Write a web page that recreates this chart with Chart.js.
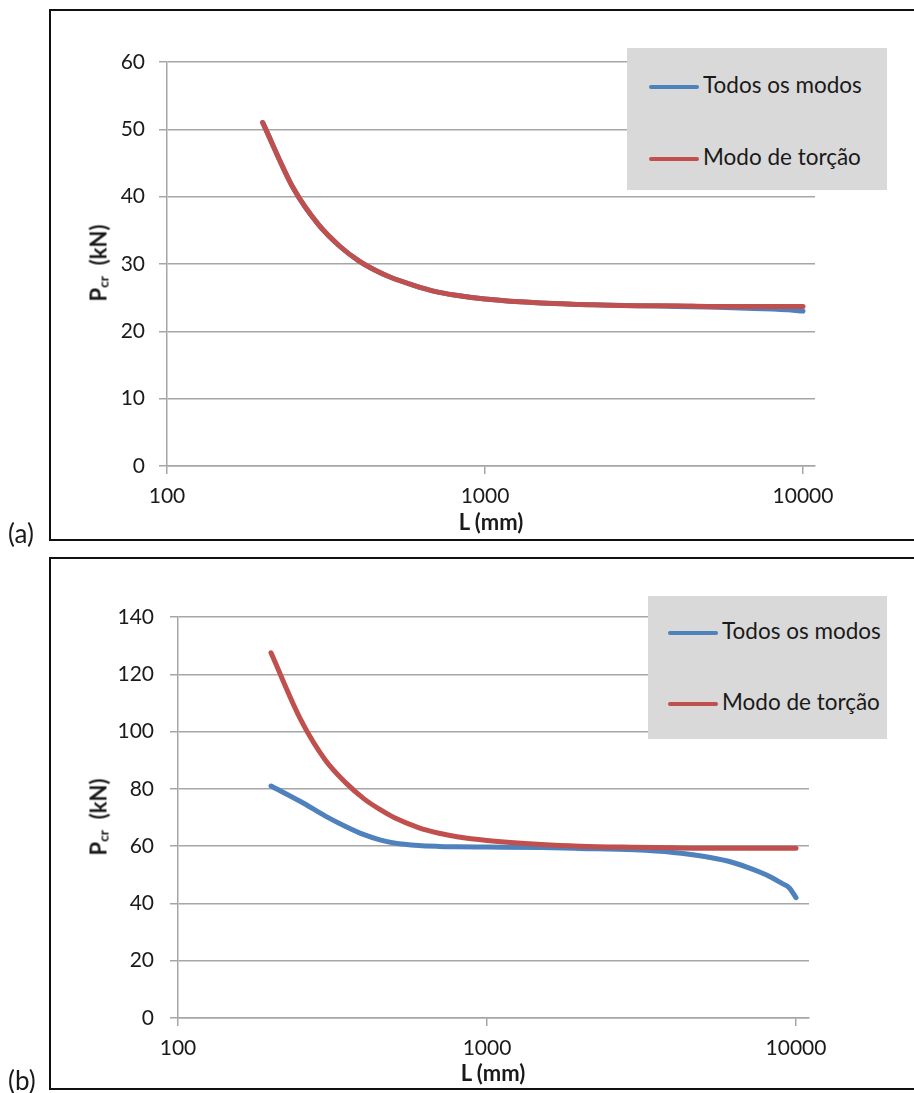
<!DOCTYPE html>
<html>
<head>
<meta charset="utf-8">
<script src="https://cdn.jsdelivr.net/npm/chart.js@4.4.1/dist/chart.umd.min.js"></script>
<style>
  body { margin: 0; width: 914px; height: 1093px; position: relative; overflow: hidden; background: #fff; font-family: Lato, sans-serif; color: #1a1a1a; }
  .frame { position: absolute; border: 2px solid #111; border-right: none; box-sizing: border-box; }
  canvas { position: absolute; left: 0; }
  .legend { position: absolute; background: #d9d9d9; }
  .item { position: absolute; left: 22px; font-size: 22.5px; line-height: 26px; white-space: nowrap; }
  .item span.sw { display: inline-block; width: 50px; height: 4px; border-radius: 2px; vertical-align: middle; margin-right: 4px; }
  .xtitle { position: absolute; font-weight: bold; font-size: 22px; transform: translate(-50%, -50%); white-space: nowrap; }
  .ytitle { position: absolute; font-weight: bold; font-size: 22px; transform: translate(-50%, -50%) rotate(-90deg); white-space: nowrap; }
  .ytitle sub { font-size: 14px; vertical-align: -2px; }
  .tag { position: absolute; left: 8px; font-size: 26px; transform: translateY(-50%); }
</style>
</head>
<body>
<div class="frame" style="left:49px; top:9px; width:880px; height:532px;"></div>
<div class="frame" style="left:49px; top:557px; width:880px; height:533px;"></div>

<canvas id="chartA" width="914" height="545" style="top:0"></canvas>
<canvas id="chartB" width="914" height="548" style="top:545px"></canvas>

<div class="legend" style="left:627px; top:48px; width:260px; height:142px;">
  <div class="item" style="top:24px"><span class="sw" style="background:#4f81bd"></span>Todos os modos</div>
  <div class="item" style="top:96px"><span class="sw" style="background:#c0504d"></span>Modo de torção</div>
</div>
<div class="legend" style="left:648px; top:596px; width:239px; height:143px;">
  <div class="item" style="top:22px; left:20px"><span class="sw" style="background:#4f81bd"></span>Todos os modos</div>
  <div class="item" style="top:93px; left:20px"><span class="sw" style="background:#c0504d"></span>Modo de torção</div>
</div>

<div class="ytitle" style="left:98px; top:263px;">P<sub>cr</sub>&nbsp;&nbsp;(kN)</div>
<div class="ytitle" style="left:98px; top:817px;">P<sub>cr</sub>&nbsp;&nbsp;(kN)</div>
<div class="xtitle" style="left:491px; top:521px;">L (mm)</div>
<div class="xtitle" style="left:493px; top:1072px;">L (mm)</div>
<div class="tag" style="top:533px;">(a)</div>
<div class="tag" style="top:1080px;">(b)</div>

<script>
// comprimentos L (mm)
const LENGTHS = [200, 250, 300, 350, 400, 450, 500, 600, 700, 800, 1000, 1500, 2000, 3000, 4000, 5000, 6000, 7000, 8000, 9000, 9500, 10000];

// (a)
const TODOS_A  = [51.0, 41.2, 35.8, 32.6, 30.5, 29.1, 28.1, 26.8, 25.9, 25.4, 24.8, 24.2, 24.0, 23.8, 23.7, 23.6, 23.5, 23.4, 23.3, 23.2, 23.1, 23.0];
const TORCAO_A = [51.0, 41.2, 35.8, 32.6, 30.5, 29.1, 28.1, 26.8, 25.9, 25.4, 24.8, 24.2, 24.0, 23.8, 23.8, 23.7, 23.7, 23.7, 23.7, 23.7, 23.7, 23.7];

// (b)
const TODOS_B  = [81.0, 75.5, 70.5, 66.8, 64.0, 62.2, 61.1, 60.2, 59.9, 59.8, 59.7, 59.5, 59.2, 58.7, 57.8, 56.5, 54.8, 52.5, 50.0, 47.0, 45.5, 42.0];
const TORCAO_B = [127.5, 104.0, 90.0, 82.0, 76.5, 72.8, 70.0, 66.5, 64.5, 63.3, 62.0, 60.6, 60.0, 59.6, 59.4, 59.3, 59.3, 59.3, 59.3, 59.3, 59.3, 59.3];

const X_TICKS = [100, 1000, 10000];
const Y_TICKS_A = [0, 10, 20, 30, 40, 50, 60];
const Y_TICKS_B = [0, 20, 40, 60, 80, 100, 120, 140];
const LABELS = ['Todos os modos', 'Modo de torção'];

const BLUE = '#4f81bd';
const RED = '#c0504d';
const GRID = '#a6a6a6';
const TICK_FONT = { family: 'Lato', size: 21 };

function makeChart(id, todos, torcao, yTicks, box) {
    var canvas = document.getElementById(id);
    var pts = function (vals) {
        return LENGTHS.map(function (x, i) { return { x: x, y: vals[i] }; });
    };
    return new Chart(canvas, {
        type: 'scatter',
        data: {
            datasets: [
                { label: LABELS[0], data: pts(todos), borderColor: BLUE, order: 2 },
                { label: LABELS[1], data: pts(torcao), borderColor: RED, order: 1 }
            ]
        },
        options: {
            responsive: false,
            animation: false,
            layout: { padding: { left: 0, top: box.top, right: canvas.width - box.right, bottom: 0 } },
            plugins: { legend: { display: false }, tooltip: { enabled: false } },
            datasets: { scatter: { showLine: true } },
            elements: {
                point: { radius: 0 },
                line: { borderWidth: 5, cubicInterpolationMode: 'monotone', borderCapStyle: 'round' }
            },
            scales: {
                x: {
                    type: 'logarithmic',
                    min: 100,
                    max: box.xMax,
                    afterBuildTicks: function (s) { s.ticks = X_TICKS.map(function (v) { return { value: v }; }); },
                    afterFit: function (s) { s.height = canvas.height - box.bottom; },
                    grid: { drawOnChartArea: false, tickLength: 8, color: GRID, lineWidth: 1.5 },
                    border: { color: GRID, width: 1.5 },
                    ticks: { font: TICK_FONT, color: '#1a1a1a', padding: 10, maxRotation: 0, autoSkip: false,
                             callback: function (v) { return String(v); } }
                },
                y: {
                    min: 0,
                    max: yTicks[yTicks.length - 1],
                    afterBuildTicks: function (s) { s.ticks = yTicks.map(function (v) { return { value: v }; }); },
                    afterFit: function (s) { s.width = box.left; },
                    grid: { color: GRID, lineWidth: 1.5, tickLength: 8 },
                    border: { color: GRID, width: 1.5 },
                    ticks: { font: TICK_FONT, color: '#1a1a1a', padding: box.labelGap }
                }
            }
        }
    });
}

makeChart('chartA', TODOS_A, TORCAO_A, Y_TICKS_A, { left: 167, right: 815, top: 62, bottom: 466, xMax: 10907, labelGap: 14 });
makeChart('chartB', TODOS_B, TORCAO_B, Y_TICKS_B, { left: 178, right: 809, top: 72, bottom: 473, xMax: 11015, labelGap: 16 });
</script>
</body>
</html>
